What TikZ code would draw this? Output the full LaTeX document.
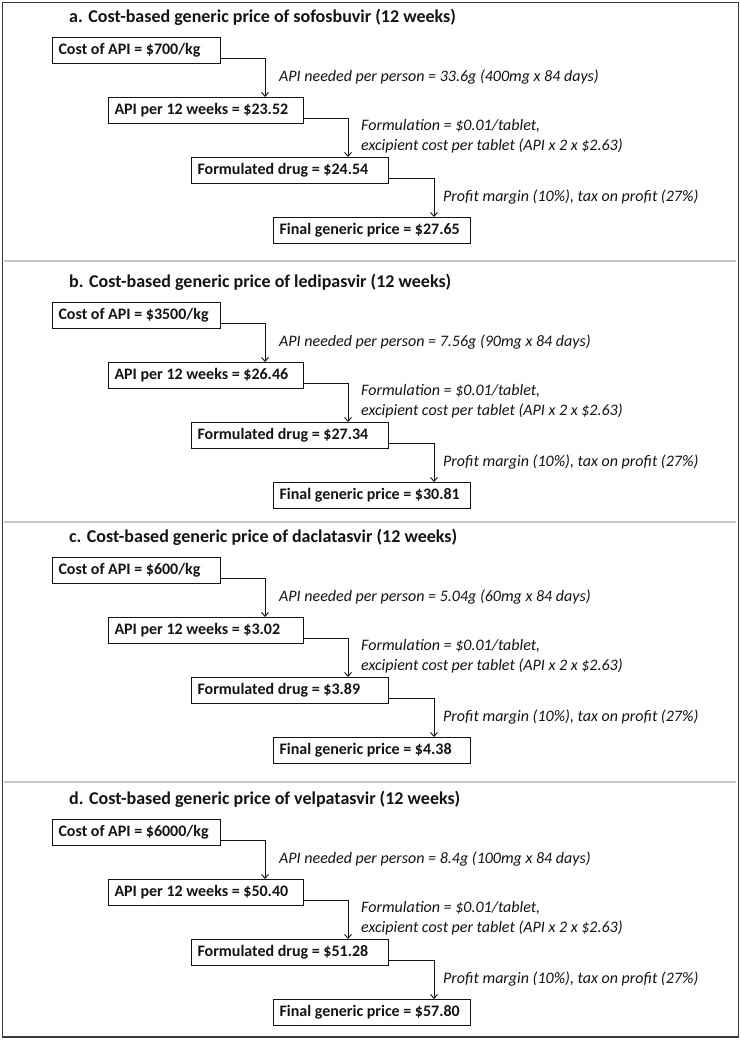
\documentclass[tikz,border=0pt]{standalone}
\usepackage{fontspec}
\setmainfont{Carlito}
\usetikzlibrary{arrows.meta}
\definecolor{framecol}{HTML}{3A3A3A}
\definecolor{sepcol}{HTML}{C8C8C8}
\definecolor{ink}{HTML}{141414}
\tikzset{
  stagebox/.style={draw=ink, line width=1pt, anchor=north west, minimum height=26pt, inner xsep=6pt, inner ysep=0pt, font=\fontsize{16}{19}\selectfont\bfseries, text=ink},
  flowarrow/.style={draw=ink, line width=0.9pt, -{Straight Barb[length=4pt,width=7pt]}},
  steplabel/.style={anchor=west, inner sep=0pt, align=left, font=\fontsize{16}{20}\selectfont\itshape, text=ink},
  paneltitle/.style={anchor=west, inner sep=0pt, font=\fontsize{18}{21}\selectfont\bfseries, text=ink},
  framestyle/.style={draw=framecol, line width=1.3pt},
  sepstyle/.style={draw=sepcol, line width=2pt}
}
\newcommand\lefttext[2]{\hbox to #1{#2\hss}}
\newcommand\costpanel[8]{%
  \node[paneltitle] (#1t) at (69,#2-20) {#3};
  \node[stagebox] (#1b1) at (52,#2) {\lefttext{156pt}{Cost of API = #4}};
  \node[stagebox] (#1b2) at (108,#2+60) {\lefttext{183pt}{API per 12 weeks = #5}};
  \node[stagebox] (#1b3) at (191,#2+120) {\lefttext{185pt}{Formulated drug = #6}};
  \node[stagebox] (#1b4) at (273,#2+180) {\lefttext{185pt}{Final generic price = #7}};
  \draw[flowarrow] ([yshift=-7.5pt]#1b1.east) -| ([xshift=157pt]#1b2.north west);
  \draw[flowarrow] ([yshift=-8pt]#1b2.east) -| ([xshift=157pt]#1b3.north west);
  \draw[flowarrow] ([yshift=-8pt]#1b3.east) -| ([xshift=161pt]#1b4.north west);
  \node[steplabel] (#1l1) at (279,#2+40) {API needed per person = #8};
  \node[steplabel] (#1l2) at (361,#2+99) {Formulation = \$0.01/tablet,\\excipient cost per tablet (API x 2 x \$2.63)};
  \node[steplabel] (#1l3) at (443,#2+160) {Profit margin (10\%), tax on profit (27\%)};
}
\begin{document}
\begin{tikzpicture}[x=1pt, y=-1pt]
  \useasboundingbox (0,0) rectangle (741,1041);
  \fill[white] (0,0) rectangle (741,1041);
  \draw[framestyle] (2.5,2.5) rectangle (738.5,1037);
  \draw[sepstyle] (3.5,261) -- (736,261);
  \draw[sepstyle] (3.5,522) -- (736,522);
  \draw[sepstyle] (3.5,782) -- (736,782);
  \costpanel{a}{37}{a. Cost-based generic price of sofosbuvir (12 weeks)}{\$700/kg}{\$23.52}{\$24.54}{\$27.65}{33.6g (400mg x 84 days)}
  \costpanel{b}{302}{b. Cost-based generic price of ledipasvir (12 weeks)}{\$3500/kg}{\$26.46}{\$27.34}{\$30.81}{7.56g (90mg x 84 days)}
  \costpanel{c}{557}{c. Cost-based generic price of daclatasvir (12 weeks)}{\$600/kg}{\$3.02}{\$3.89}{\$4.38}{5.04g (60mg x 84 days)}
  \costpanel{d}{819}{d. Cost-based generic price of velpatasvir (12 weeks)}{\$6000/kg}{\$50.40}{\$51.28}{\$57.80}{8.4g (100mg x 84 days)}
\end{tikzpicture}
\end{document}
